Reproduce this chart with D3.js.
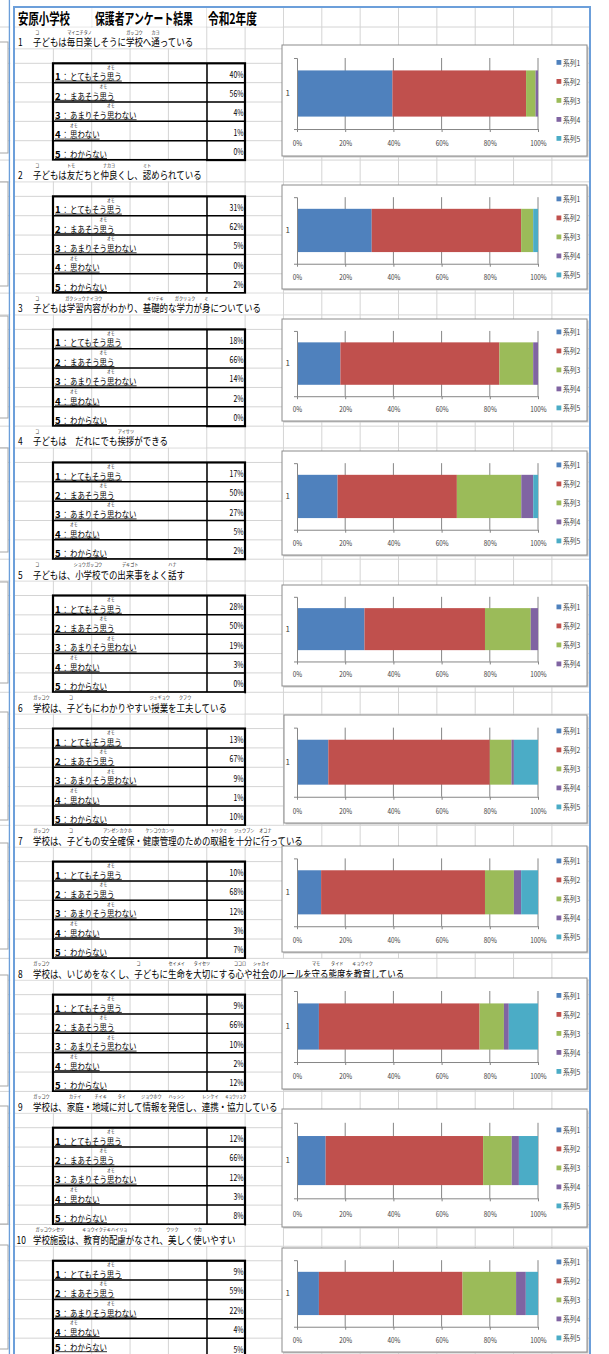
<!DOCTYPE html>
<html><head><meta charset="utf-8">
<script src="https://cdn.jsdelivr.net/npm/d3@7"></script>
<style>
body{margin:0;background:#fff}
svg{display:block}
text{font-family:"Noto Sans CJK JP","Noto Sans",sans-serif}
</style>
</head><body>
<svg id="c" width="609" height="1354"></svg>
<script>
// ---------------- data ----------------
const headerTexts = ["安原小学校", "保護者アンケート結果", "令和2年度"];
const questionNumbers = ["1","2","3","4","5","6","7","8","9","10"];
const questions = [
  "子どもは毎日楽しそうに学校へ通っている",
  "子どもは友だちと仲良くし、認められている",
  "子どもは学習内容がわかり、基礎的な学力が身についている",
  "子どもは　だれにでも挨拶ができる",
  "子どもは、小学校での出来事をよく話す",
  "学校は、子どもにわかりやすい授業を工夫している",
  "学校は、子どもの安全確保・健康管理のための取組を十分に行っている",
  "学校は、いじめをなくし、子どもに生命を大切にする心や社会のルールを守る態度を教育している",
  "学校は、家庭・地域に対して情報を発信し、連携・協力している",
  "学校施設は、教育的配慮がなされ、美しく使いやすい"
];
// [first char index, char count, reading]
const questionRuby = [
  [[0,1,"コ"],[4,3,"マイニチタノ"],[11,2,"ガッコウ"],[14,1,"カヨ"]],
  [[0,1,"コ"],[4,1,"トモ"],[8,2,"ナカヨ"],[13,1,"ミト"]],
  [[0,1,"コ"],[4,4,"ガクシュウナイヨウ"],[13,3,"キソテキ"],[17,2,"ガクリョク"],[20,1,"ミ"]],
  [[0,1,"コ"],[10,2,"アイサツ"]],
  [[0,1,"コ"],[5,3,"ショウガッコウ"],[10,3,"デキゴト"],[16,1,"ハナ"]],
  [[0,2,"ガッコウ"],[4,1,"コ"],[14,2,"ジュギョウ"],[17,2,"クフウ"]],
  [[0,2,"ガッコウ"],[4,1,"コ"],[8,4,"アンゼンカクホ"],[13,4,"ケンコウカンリ"],[21,2,"トリクミ"],[24,2,"ジュウブン"],[27,1,"オコナ"]],
  [[0,2,"ガッコウ"],[12,1,"コ"],[16,2,"セイメイ"],[19,2,"タイセツ"],[24,1,"ココロ"],[26,2,"シャカイ"],[33,1,"マモ"],[35,2,"タイド"],[38,2,"キョウイク"]],
  [[0,2,"ガッコウ"],[4,2,"カテイ"],[7,2,"チイキ"],[10,1,"タイ"],[13,2,"ジョウホウ"],[16,2,"ハッシン"],[20,2,"レンケイ"],[23,2,"キョウリョク"]],
  [[0,4,"ガッコウシセツ"],[6,5,"キョウイクテキハイリョ"],[16,1,"ウツク"],[19,1,"ツカ"]]
];
const optionNumbers = ["1","2","3","4","5"];
const optionLabels = ["とてもそう思う","まあそう思う","あまりそう思わない","思わない","わからない"];
const optionRuby = [[5,1,"オモ"],[4,1,"オモ"],[5,1,"オモ"],[0,1,"オモ"],null];
const seriesNames = ["系列1","系列2","系列3","系列4","系列5"];
const series1 = [40,31,18,17,28,13,10, 9,12, 9];
const series2 = [56,62,66,50,50,67,68,66,66,59];
const series3 = [ 4, 5,14,27,19, 9,12,10,12,22];
const series4 = [ 1, 0, 2, 5, 3, 1, 3, 2, 3, 4];
const series5 = [ 0, 2, 0, 2, 0,10, 7,12, 8, 5];
const legendCounts = [5,5,5,5,4,5,5,5,5,5];
const categoryLabels = ["1"];
const tickValues = [0,0.2,0.4,0.6,0.8,1];
const tickLabels = ["0%","20%","40%","60%","80%","100%"];

// ---------------- layout ----------------
const colors = ["#4f81bd","#c0504d","#9bbb59","#8064a2","#4bacc6"];
const allSeries = [series1,series2,series3,series4,series5];
const gridColor = "#d4d4d4";
const frameColor = "#6c9fda";
const colX = d3.range(16).map(k => 15 + 38.35*k);
const firstTable = 63.3, period = 133.05, rowH = 19.35;
const chartTops    = [45,185,319,451,585,715,846,978,1109,1248];
const chartBottoms = [156,289,421,555,686,823,952,1089,1227,1352];
const chartLefts   = [282,282,282,282,282,284,282,282,282,282];
const chartRight = 587;

const svg = d3.select("#c");
svg.append("rect").attr("width",609).attr("height",1354).attr("fill","#fff");

// text squeezed horizontally to a given width
function fitText(g, str, x, y, width, size, opts={}){
  const t = g.append("text").attr("font-size",size).attr("fill",opts.fill||"#000").text(str);
  if (opts.weight) t.attr("font-weight",opts.weight);
  if (opts.family) t.attr("font-family",opts.family);
  const nat = t.node().getComputedTextLength() || 1;
  const s = width/nat;
  t.attr("transform",`translate(${x},${y}) scale(${s},1)`);
  return t;
}

// row boundaries
const rows = [27];
for (let k=0;k<10;k++){
  const t = firstTable + period*k;
  rows.push(t-14.5, t);
  for (let r=1;r<=5;r++) rows.push(t + r*rowH);
}
rows.push(firstTable+period*10-14.5);
const gGrid = svg.append("g").attr("stroke",gridColor).attr("stroke-width",1);
gGrid.selectAll("line.h").data(rows).join("line")
  .attr("x1",0).attr("x2",590).attr("y1",d=>d).attr("y2",d=>d);
gGrid.selectAll("line.v").data(colX.slice(1,15)).join("line")
  .attr("x1",d=>d).attr("x2",d=>d).attr("y1",7).attr("y2",1354);

// neighbour page (left strip)
const gLeft = svg.append("g");
gLeft.selectAll("rect").data(chartTops).join("rect")
  .attr("x",-100).attr("y",(d)=>d-3).attr("width",108)
  .attr("height",(d,i)=>chartBottoms[i]-d).attr("fill","#fff")
  .attr("stroke","#a6a6a6").attr("stroke-width",1);
svg.append("line").attr("x1",9.5).attr("x2",9.5).attr("y1",0).attr("y2",1354)
  .attr("stroke",frameColor).attr("stroke-width",1.5);
svg.append("rect").attr("x",10.3).attr("y",0).attr("width",3).attr("height",1354).attr("fill","#fff");

// header
const hdrCells = [[15.5,91.7],[92.7,206.2],[207.2,282.9]];
const hdrX = [18,95,208];
const hdrW = [52,98,49];
const gHdr = svg.append("g");
hdrCells.forEach((c,i)=>{
  gHdr.append("rect").attr("x",c[0]).attr("y",7.5).attr("width",c[1]-c[0]).attr("height",19).attr("fill","#fff");
});
headerTexts.forEach((t,i)=>{
  fitText(gHdr, t, hdrX[i], 24, hdrW[i], 14.5, {weight:"bold"});
});

// sections
const qPitch = 8.45, qFont = 10.5;
const oPitch = 7.4, oFont = 9;
questions.forEach((q,k)=>{
  const tTop = firstTable + period*k;
  const titleBottom = tTop - 14.5;
  const titleTop = tTop - 36.3;
  const g = svg.append("g");
  const textEnd = 33 + q.length*qPitch;
  const hideTo = colX.find(c => c > textEnd + 1) - 0.7;
  g.append("rect").attr("x",15.5).attr("y",titleTop+0.6).attr("width",hideTo-15.5)
    .attr("height",titleBottom-titleTop-1.2).attr("fill","#fff");
  g.append("text").attr("transform",`translate(${k===9?16.5:18},${titleBottom-2.5}) scale(0.8,1)`)
    .attr("font-size",qFont).attr("fill","#000").text(questionNumbers[k]);
  fitText(g, q, 33, titleBottom-2.5, q.length*qPitch, qFont);
  questionRuby[k].forEach(([s,n,r])=>{
    const cx = 33 + (s + n/2)*qPitch;
    const w = Math.min(r.length*4.1, Math.max(n*qPitch+4, r.length*3.2));
    fitText(g, r, cx - w/2, titleBottom-15, w, 4.6, {fill:"#222"});
  });

  // table
  const gt = svg.append("g");
  optionLabels.forEach((lab,r)=>{
    const rb = tTop + (r+1)*rowH;
    const rt = tTop + r*rowH;
    const base = Math.min(rb-2.3, 1351);
    gt.append("text").attr("x",55).attr("y",base).attr("font-size",oFont+0.5)
      .attr("font-weight","bold").attr("font-family","Liberation Sans, Arial, sans-serif")
      .attr("fill","#000").text(optionNumbers[r]);
    fitText(gt, "：", 61.5, base, oPitch, oFont);
    fitText(gt, lab, 70, base, lab.length*oPitch, oFont);
    gt.append("line").attr("x1",55).attr("x2",70+lab.length*oPitch)
      .attr("y1",base+0.7).attr("y2",base+0.7).attr("stroke","#000").attr("stroke-width",0.8);
    const ru = optionRuby[r];
    if (ru){
      const cx = 70 + (ru[0]+ru[1]/2)*oPitch;
      fitText(gt, ru[2], cx-3.8, rt+5.3, 7.6, 4.3, {fill:"#222"});
    }
    const v = allSeries[r][k];
    gt.append("text").attr("transform",`translate(243.5,${rb-5}) scale(0.76,1)`)
      .attr("text-anchor","end").attr("font-size",9).attr("fill","#000").text(v+"%");
  });
  for (let r=1;r<5;r++){
    gt.append("line").attr("x1",53).attr("x2",245).attr("y1",tTop+r*rowH).attr("y2",tTop+r*rowH)
      .attr("stroke","#000").attr("stroke-width",1.5);
  }
  gt.append("line").attr("x1",207).attr("x2",207).attr("y1",tTop).attr("y2",tTop+5*rowH)
    .attr("stroke","#000").attr("stroke-width",1.5);
  gt.append("rect").attr("x",53).attr("y",tTop).attr("width",192).attr("height",5*rowH)
    .attr("fill","none").attr("stroke","#000").attr("stroke-width",2.2);

  // chart
  const T = chartTops[k], B = chartBottoms[k], Hh = B - T, L = chartLefts[k];
  const gc = svg.append("g");
  gc.append("rect").attr("x",L+1.5).attr("y",T+1.5).attr("width",chartRight-L).attr("height",Hh)
    .attr("fill","#c8c8c8");
  gc.append("rect").attr("x",L).attr("y",T).attr("width",chartRight-L).attr("height",Hh)
    .attr("fill","#fff").attr("stroke","#8c8c8c").attr("stroke-width",1);
  const x = d3.scaleLinear().domain([0,1]).range([297,538]);
  const gTop = T + 0.117*Hh, axY = T + 0.757*Hh;
  const y = d3.scaleBand().domain(categoryLabels).range([gTop,axY]).paddingInner(0.35).paddingOuter(0.175);
  gc.append("g").selectAll("line").data(tickValues.slice(1)).join("line")
    .attr("x1",d=>x(d)).attr("x2",d=>x(d)).attr("y1",gTop).attr("y2",axY)
    .attr("stroke","#868686").attr("stroke-width",1);
  const n = legendCounts[k];
  const keys = seriesNames.slice(0,n);
  const rowObj = {cat: categoryLabels[0]};
  keys.forEach((s,j)=>rowObj[s] = allSeries[j][k]);
  const stacked = d3.stack().keys(keys).offset(d3.stackOffsetExpand)([rowObj]);
  gc.append("g").selectAll("rect").data(stacked).join("rect")
    .attr("x",d=>x(d[0][0])).attr("width",d=>Math.max(0,x(d[0][1])-x(d[0][0])))
    .attr("y",y(categoryLabels[0])).attr("height",y.bandwidth())
    .attr("fill",(d,j)=>colors[j]);
  const xa = gc.append("g").attr("transform",`translate(0,${axY})`)
    .call(d3.axisBottom(x).tickValues(tickValues).tickFormat((d,j)=>tickLabels[j])
      .tickSizeInner(3).tickSizeOuter(0).tickPadding(0.163*Hh - 9));
  xa.select(".domain").attr("stroke","#868686");
  xa.selectAll(".tick line").attr("stroke","#868686");
  xa.selectAll(".tick text").attr("font-size",7.5).attr("fill","#404040")
    .attr("font-family","Noto Sans, sans-serif").attr("transform","scale(0.85,1)");
  const ya = gc.append("g").attr("transform",`translate(${x(0)},0)`)
    .call(d3.axisLeft(y).tickSizeInner(0).tickSizeOuter(3).tickPadding(7));
  ya.select(".domain").attr("stroke","#868686");
  ya.selectAll(".tick text").attr("font-size",8).attr("fill","#404040")
    .attr("font-family","Noto Sans, sans-serif");
  // legend
  const lc = T + Hh/2;
  const gl = gc.append("g");
  keys.forEach((s,j)=>{
    const ly = lc + (j-(n-1)/2)*19;
    gl.append("rect").attr("x",556.5).attr("y",ly-2.5).attr("width",4.8).attr("height",4.8).attr("fill",colors[j]);
    gl.append("text").attr("transform",`translate(563,${ly+3}) scale(0.9,1)`)
      .attr("font-size",7.5).attr("fill","#404040").text(s);
  });
});

// frame
const gf = svg.append("g").attr("stroke",frameColor).attr("fill","none");
gf.append("line").attr("x1",14).attr("x2",14).attr("y1",6).attr("y2",1354).attr("stroke-width",2);
gf.append("line").attr("x1",13).attr("x2",591).attr("y1",7).attr("y2",7).attr("stroke-width",2);
gf.append("line").attr("x1",590).attr("x2",590).attr("y1",6).attr("y2",1354).attr("stroke-width",2);
svg.append("rect").attr("x",591.1).attr("y",0).attr("width",20).attr("height",1354).attr("fill","#fff");
</script>
</body></html>
